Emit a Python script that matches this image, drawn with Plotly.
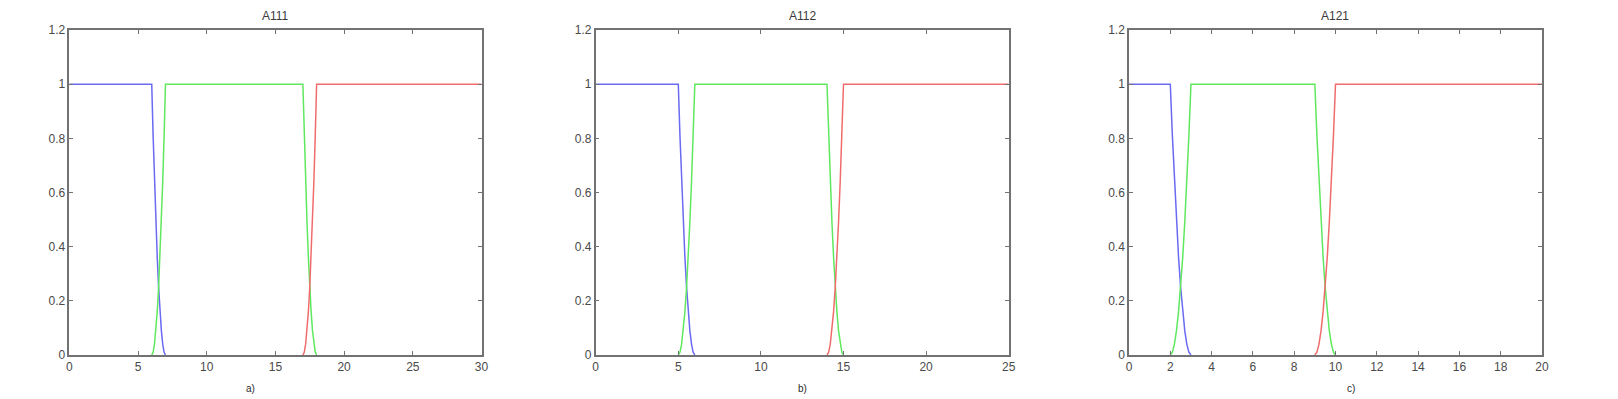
import plotly.graph_objects as go

# ---------------- data ----------------
titles = ["A111", "A112", "A121"]
captions = ["a)", "b)", "c)"]

# panel a) A111
a_blue_x = [0, 6, 6.1, 6.2, 6.3, 6.4, 6.5, 6.6, 6.7, 6.8, 6.9, 7]
a_blue_y = [1, 1, 0.81, 0.64, 0.49, 0.36, 0.25, 0.16, 0.09, 0.04, 0.01, 0]
a_green_x = [6, 6.1, 6.2, 6.3, 6.4, 6.5, 6.6, 6.7, 6.8, 6.9, 7,
             17, 17.1, 17.2, 17.3, 17.4, 17.5, 17.6, 17.7, 17.8, 17.9, 18]
a_green_y = [0, 0.01, 0.04, 0.09, 0.16, 0.25, 0.36, 0.49, 0.64, 0.81, 1,
             1, 0.81, 0.64, 0.49, 0.36, 0.25, 0.16, 0.09, 0.04, 0.01, 0]
a_red_x = [17, 17.1, 17.2, 17.3, 17.4, 17.5, 17.6, 17.7, 17.8, 17.9, 18, 30]
a_red_y = [0, 0.01, 0.04, 0.09, 0.16, 0.25, 0.36, 0.49, 0.64, 0.81, 1, 1]

# panel b) A112
b_blue_x = [0, 5, 5.1, 5.2, 5.3, 5.4, 5.5, 5.6, 5.7, 5.8, 5.9, 6]
b_blue_y = [1, 1, 0.81, 0.64, 0.49, 0.36, 0.25, 0.16, 0.09, 0.04, 0.01, 0]
b_green_x = [5, 5.1, 5.2, 5.3, 5.4, 5.5, 5.6, 5.7, 5.8, 5.9, 6,
             14, 14.1, 14.2, 14.3, 14.4, 14.5, 14.6, 14.7, 14.8, 14.9, 15]
b_green_y = [0, 0.01, 0.04, 0.09, 0.16, 0.25, 0.36, 0.49, 0.64, 0.81, 1,
             1, 0.81, 0.64, 0.49, 0.36, 0.25, 0.16, 0.09, 0.04, 0.01, 0]
b_red_x = [14, 14.1, 14.2, 14.3, 14.4, 14.5, 14.6, 14.7, 14.8, 14.9, 15, 25]
b_red_y = [0, 0.01, 0.04, 0.09, 0.16, 0.25, 0.36, 0.49, 0.64, 0.81, 1, 1]

# panel c) A121
c_blue_x = [0, 2, 2.1, 2.2, 2.3, 2.4, 2.5, 2.6, 2.7, 2.8, 2.9, 3]
c_blue_y = [1, 1, 0.81, 0.64, 0.49, 0.36, 0.25, 0.16, 0.09, 0.04, 0.01, 0]
c_green_x = [2, 2.1, 2.2, 2.3, 2.4, 2.5, 2.6, 2.7, 2.8, 2.9, 3,
             9, 9.1, 9.2, 9.3, 9.4, 9.5, 9.6, 9.7, 9.8, 9.9, 10]
c_green_y = [0, 0.01, 0.04, 0.09, 0.16, 0.25, 0.36, 0.49, 0.64, 0.81, 1,
             1, 0.81, 0.64, 0.49, 0.36, 0.25, 0.16, 0.09, 0.04, 0.01, 0]
c_red_x = [9, 9.1, 9.2, 9.3, 9.4, 9.5, 9.6, 9.7, 9.8, 9.9, 10, 20]
c_red_y = [0, 0.01, 0.04, 0.09, 0.16, 0.25, 0.36, 0.49, 0.64, 0.81, 1, 1]

x_max = [30, 25, 20]
x_ticks = [[0, 5, 10, 15, 20, 25, 30],
           [0, 5, 10, 15, 20, 25],
           [0, 2, 4, 6, 8, 10, 12, 14, 16, 18, 20]]
y_ticks = [0, 0.2, 0.4, 0.6, 0.8, 1, 1.2]
y_tick_text = ["0", "0.2", "0.4", "0.6", "0.8", "1", "1.2"]

panels = [
    (a_blue_x, a_blue_y, a_green_x, a_green_y, a_red_x, a_red_y),
    (b_blue_x, b_blue_y, b_green_x, b_green_y, b_red_x, b_red_y),
    (c_blue_x, c_blue_y, c_green_x, c_green_y, c_red_x, c_red_y),
]

# ---------------- layout / styling ----------------
# the page body has an 8px margin, so the figure is 8px smaller and all
# page pixel positions are shifted by 8px
OFF = 8
W, H = 1618 - OFF, 399 - OFF
x_px = [(69.3, 481.5), (595.7, 1008.7), (1129.0, 1542.0)]
y_px = (30.0, 355.0)
caption_px = [250, 802, 1351]
title_y = 16
caption_y = 388

BLUE = "#6a6af2"
GREEN = "#5fe85f"
RED = "#f06c6c"
AXC = "#727272"
TXT = "#4a4a4a"
FONT = "Liberation Sans, Arial, sans-serif"

fig = go.Figure()
layout = dict(
    width=W, height=H,
    margin=dict(l=0, r=0, t=0, b=0, autoexpand=False),
    paper_bgcolor="white", plot_bgcolor="white",
    showlegend=False,
    font=dict(family=FONT, size=12, color=TXT),
)

annotations = []
ydom = [1 - (y_px[1] - OFF) / H, 1 - (y_px[0] - OFF) / H]
for i, (bx, by, gx, gy, rx, ry) in enumerate(panels):
    n = "" if i == 0 else str(i + 1)
    xa, ya = "x" + n, "y" + n
    for xs, ys, col in ((bx, by, BLUE), (gx, gy, GREEN), (rx, ry, RED)):
        fig.add_trace(go.Scatter(x=xs, y=ys, mode="lines", xaxis=xa, yaxis=ya,
                                 line=dict(color=col, width=1.5),
                                 hoverinfo="skip"))
    xdom = [(x_px[i][0] - OFF) / W, (x_px[i][1] - OFF) / W]
    axis_common = dict(showline=True, linecolor=AXC, linewidth=1.5,
                       mirror="ticks", ticks="inside", ticklen=4,
                       tickwidth=1, tickcolor=AXC, showgrid=False,
                       zeroline=False, fixedrange=True, automargin=False,
                       tickfont=dict(family=FONT, size=12, color=TXT))
    layout["xaxis" + n] = dict(domain=xdom, range=[0, x_max[i]],
                               anchor=ya, tickvals=x_ticks[i],
                               ticktext=[str(v) for v in x_ticks[i]],
                               **axis_common)
    layout["yaxis" + n] = dict(domain=ydom, range=[0, 1.2], anchor=xa,
                               tickvals=y_ticks, ticktext=y_tick_text,
                               **axis_common)
    annotations.append(dict(text=titles[i], xref="paper", yref="paper",
                            x=(xdom[0] + xdom[1]) / 2,
                            y=1 - (title_y - OFF) / H,
                            xanchor="center", yanchor="middle",
                            showarrow=False,
                            font=dict(family=FONT, size=12, color="#3a3a3a")))
    annotations.append(dict(text=captions[i], xref="paper", yref="paper",
                            x=(caption_px[i] - OFF) / W,
                            y=1 - (caption_y - OFF) / H,
                            xanchor="center", yanchor="middle",
                            showarrow=False,
                            font=dict(family=FONT, size=10, color="#2a2a2a")))

layout["annotations"] = annotations
fig.update_layout(**layout)
fig.write_html("out.html", config={"displayModeBar": False})
